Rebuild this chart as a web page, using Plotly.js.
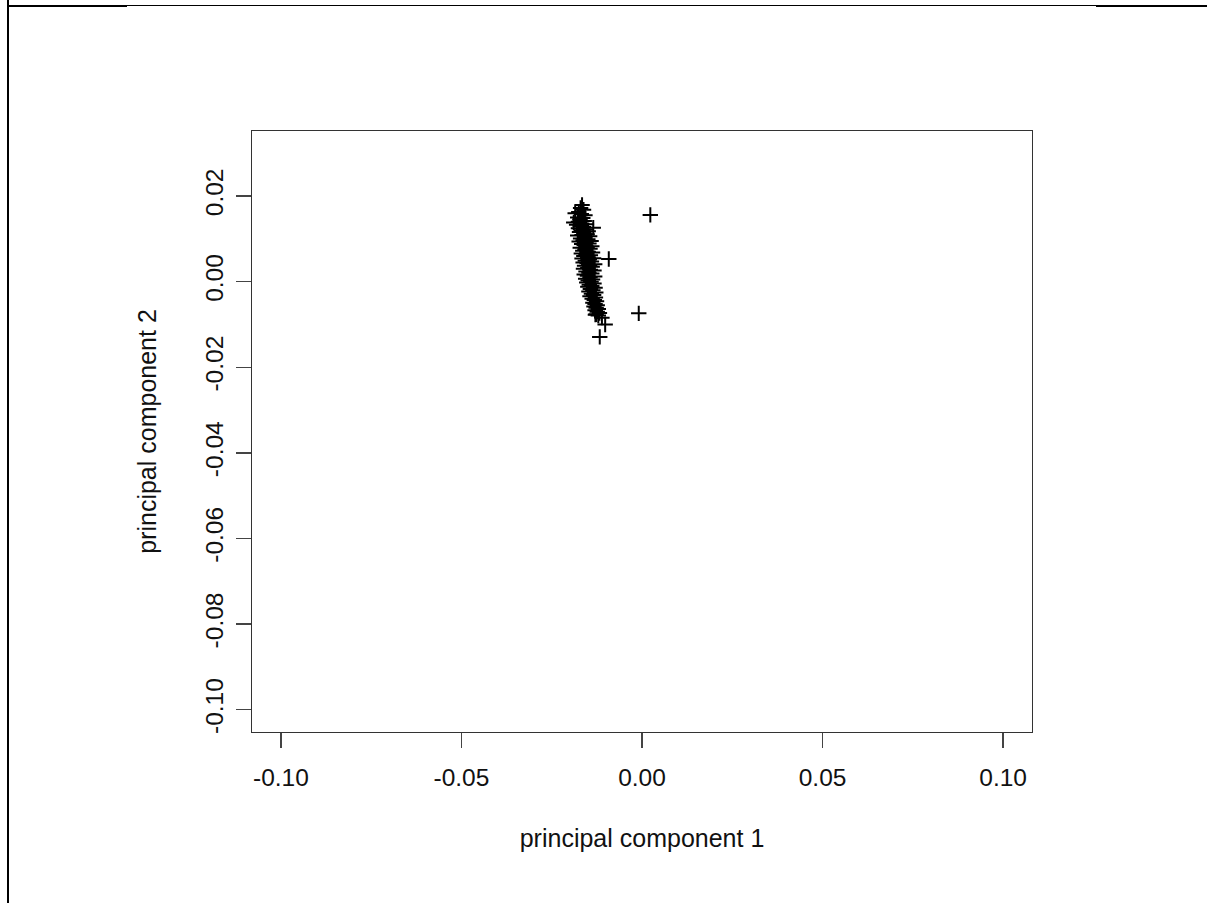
<!DOCTYPE html>
<html>
<head>
<meta charset="utf-8">
<script src="https://cdn.plot.ly/plotly-3.0.1.min.js"></script>
<style>
html,body{margin:0;padding:0;background:#fff;}
#wrap{position:relative;width:1207px;height:903px;overflow:hidden;}
#chart{position:absolute;left:0;top:0;width:1207px;height:903px;}
.ln{position:absolute;background:#000;}
</style>
</head>
<body>
<div id="wrap">
<div id="chart"></div>
<div class="ln" style="left:7px;top:0;width:2px;height:903px;"></div>
<div class="ln" style="left:7px;top:5px;width:120px;height:2px;"></div>
<div class="ln" style="left:127px;top:5px;width:969px;height:1px;"></div>
<div class="ln" style="left:1096px;top:5px;width:111px;height:2px;"></div>
</div>
<script>
const pc1 = [
-0.0166,-0.0170,-0.0162,-0.0175,-0.0185,-0.0168,-0.0158,-0.0178,-0.0164,-0.0172,
-0.0189,-0.0176,-0.0160,-0.0167,-0.0181,-0.0154,-0.0171,-0.0162,-0.0135,-0.0176,
-0.0157,-0.0168,-0.0149,-0.0173,-0.0161,-0.0152,-0.0166,-0.0178,-0.0145,-0.0158,
-0.0170,-0.0150,-0.0163,-0.0141,-0.0174,-0.0155,-0.0147,-0.0167,-0.0160,-0.0139,
-0.0152,-0.0171,-0.0144,-0.0158,-0.0164,-0.0149,-0.0137,-0.0168,-0.0155,-0.0143,
-0.0161,-0.0150,-0.0134,-0.0166,-0.0146,-0.0157,-0.0140,-0.0163,-0.0152,-0.0131,
-0.0145,-0.0159,-0.0138,-0.0150,-0.0162,-0.0143,-0.0133,-0.0155,-0.0147,-0.0139,
-0.0160,-0.0151,-0.0131,-0.0144,-0.0156,-0.0137,-0.0149,-0.0141,-0.0153,-0.0133,
-0.0146,-0.0139,-0.0150,-0.0130,-0.0143,-0.0136,-0.0147,-0.0128,-0.0140,-0.0134,
-0.0144,-0.0129,-0.0138,-0.0132,-0.0126,-0.0136,-0.0130,-0.0124,-0.0133,-0.0127,
-0.0121,-0.0130,-0.0124,-0.0118,-0.0127,-0.0121,-0.0129,-0.0111,-0.0102,-0.0117,
-0.0092,-0.0009,0.0023
];
const pc2 = [
0.0179,0.0172,0.0168,0.0163,0.0160,0.0158,0.0155,0.0150,0.0149,0.0145,
0.0138,0.0140,0.0142,0.0136,0.0133,0.0134,0.0130,0.0128,0.0126,0.0125,
0.0122,0.0120,0.0118,0.0116,0.0114,0.0111,0.0109,0.0108,0.0106,0.0104,
0.0101,0.0099,0.0097,0.0095,0.0094,0.0092,0.0089,0.0088,0.0085,0.0083,
0.0081,0.0079,0.0077,0.0075,0.0072,0.0070,0.0068,0.0066,0.0064,0.0062,
0.0060,0.0057,0.0055,0.0054,0.0052,0.0049,0.0047,0.0045,0.0043,0.0041,
0.0039,0.0037,0.0035,0.0032,0.0030,0.0028,0.0026,0.0024,0.0021,0.0019,
0.0017,0.0014,0.0012,0.0010,0.0007,0.0005,0.0003,0.0000,-0.0002,-0.0004,
-0.0007,-0.0010,-0.0012,-0.0014,-0.0017,-0.0020,-0.0023,-0.0025,-0.0028,-0.0031,
-0.0034,-0.0037,-0.0040,-0.0043,-0.0046,-0.0049,-0.0052,-0.0055,-0.0058,-0.0061,
-0.0064,-0.0067,-0.0070,-0.0073,-0.0076,-0.0079,-0.0077,-0.0084,-0.0100,-0.0129,
0.0053,-0.0074,0.0156
];
const xTickVals = [-0.10,-0.05,0.00,0.05,0.10];
const xTickText = ["-0.10","-0.05","0.00","0.05","0.10"];
const yTickVals = [0.02,0.00,-0.02,-0.04,-0.06,-0.08,-0.10];
const yTickText = ["0.02","0.00","-0.02","-0.04","-0.06","-0.08","-0.10"];

const font = {family: "Liberation Sans, Arial, sans-serif", size: 24.5, color: "#111"};

Plotly.newPlot("chart", [{
  x: pc1, y: pc2, type: "scatter", mode: "markers",
  marker: {symbol: "cross-thin-open", size: 11, color: "#000", line: {color: "#000", width: 2}},
  hoverinfo: "skip"
}], {
  width: 1207, height: 903,
  margin: {l: 252, r: 175, t: 131, b: 171, pad: 0},
  paper_bgcolor: "#fff", plot_bgcolor: "#fff",
  showlegend: false,
  font: font,
  xaxis: {
    range: [-0.108, 0.108], tickvals: xTickVals, ticktext: xTickText,
    showgrid: false, zeroline: false, showline: true, mirror: true,
    linecolor: "#333", linewidth: 1.3, ticks: "outside", ticklen: 15,
    tickwidth: 1.3, tickcolor: "#444", tickfont: font, ticklabelstandoff: 8,
    title: {text: "principal component 1", font: {family: font.family, size: 25, color: "#111"}, standoff: 39}
  },
  yaxis: {
    range: [-0.1052, 0.0352], tickvals: yTickVals, ticktext: yTickText,
    showgrid: false, zeroline: false, showline: true, mirror: true,
    linecolor: "#333", linewidth: 1.3, ticks: "outside", ticklen: 15,
    tickwidth: 1.3, tickcolor: "#444", tickfont: font, tickangle: -90, ticklabelstandoff: 3,
    title: {text: "principal component 2", font: {family: font.family, size: 25, color: "#111"}, standoff: 37}
  }
}, {displayModeBar: false, staticPlot: true});
</script>
</body>
</html>
